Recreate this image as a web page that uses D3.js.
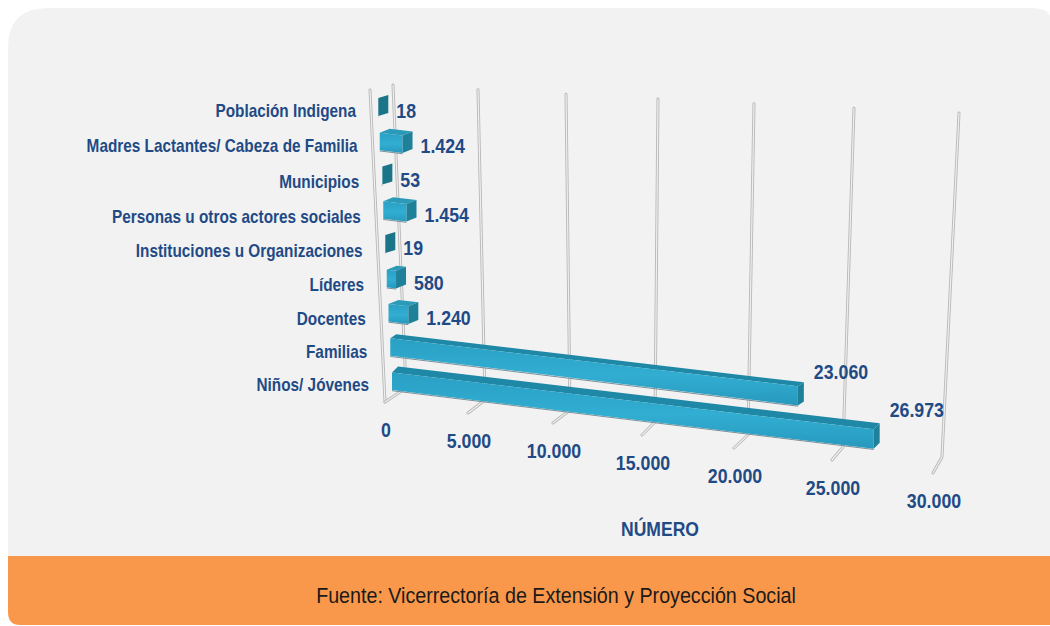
<!DOCTYPE html>
<html><head><meta charset="utf-8">
<script src="https://cdn.jsdelivr.net/npm/d3@7/dist/d3.min.js"></script>
<style>html,body{margin:0;padding:0;background:#fff;overflow:hidden}svg{display:block}
text{font-family:"Liberation Sans",Arial,sans-serif}</style>
</head><body><svg id="c" width="1050" height="626"></svg>
<script>
const categories = ["Población Indigena","Madres Lactantes/ Cabeza de Familia","Municipios","Personas u otros actores sociales","Instituciones u Organizaciones","Líderes","Docentes","Familias","Niños/ Jóvenes"];
const values = [18,1424,53,1454,19,580,1240,23060,26973];
const valueLabels = ["18","1.424","53","1.454","19","580","1.240","23.060","26.973"];
const tickValues = [0,5000,10000,15000,20000,25000,30000];
const tickLabels = ["0","5.000","10.000","15.000","20.000","25.000","30.000"];
const axisTitle = "NÚMERO";
const source = "Fuente: Vicerrectoría de Extensión y Proyección Social";

const ink = "#1f4a85";
const svg = d3.select("#c");
const defs = svg.append("defs");
const g = defs.append("linearGradient").attr("id","face").attr("x1",0).attr("y1",0).attr("x2",0).attr("y2",1);
g.append("stop").attr("offset",0).attr("stop-color","#2a9fc4");
g.append("stop").attr("offset",.55).attr("stop-color","#31aed2");
g.append("stop").attr("offset",1).attr("stop-color","#2798bd");

// condensed text: real text, narrowed horizontally
function label(x,y,str,size,sx,anchor,bold,fill){
  return svg.append("text").attr("transform",`translate(${x},${y}) scale(${sx},1)`)
    .attr("text-anchor",anchor).attr("font-size",size)
    .attr("font-weight",bold?"bold":"normal").attr("fill",fill).text(str);
}

// panel and footer
svg.append("path").attr("fill","#f2f2f2")
  .attr("d","M8,560V48Q8,8 48,8H1030Q1050,8 1050,18V560Z");
svg.append("path").attr("fill","#f9984a")
  .attr("d","M8,556H1050V625H20Q8,625 8,612Z");
label(556,603,source,22,.895,"middle",false,"#1a1a1a");

// perspective scales (the picture's projection is not linear)
const topX = d3.scaleLinear().domain(tickValues).range([393,478,566,658,754,854,959]);
const botX = d3.scaleLinear().domain(tickValues).range([406,485,570,655,748,843,942]);
const footX = d3.scaleLinear().domain(tickValues).range([385,468,553,642,734,832,933]);
const topY = d3.scaleLinear().domain([0,30000]).range([85,113]);
const botY = d3.scaleLinear().domain(tickValues).range([388,400,410,422,435,447,457]);
const footY = d3.scaleLinear().domain(tickValues).range([402,413,423,435,448,460,473]);
const barLen = d3.scaleLinear().domain([0,500,1500,15000,30000]).range([0,8,24,255,539]);
const rowLeft = d3.scalePoint().domain(categories).range([378,392]);
const rowBottom = d3.scalePoint().domain(categories).range([116,390]);
const rowLabelX = d3.scalePoint().domain(categories).range([356,369]);
const rowLabelY = d3.scaleLinear().domain([0,3,6,8]).range([111,217,319,385]);

function gridLine(pts){
  const l = d3.line();
  svg.append("path").attr("d",l(pts)).attr("fill","none").attr("stroke","#b8b8b8").attr("stroke-width",3).attr("stroke-linecap","round").attr("stroke-linejoin","round");
  svg.append("path").attr("d",l(pts)).attr("fill","none").attr("stroke","#efefef").attr("stroke-width",1.2).attr("stroke-linecap","round").attr("stroke-linejoin","round");
}
// left edge of the wall
gridLine([[370,90],[385,402]]);
tickValues.forEach((t,i)=>{
  const fx=footX(t), fy=footY(t);
  gridLine([[topX(t),topY(t)],[botX(t),botY(t)],[fx,fy]]);
  label(fx+1,fy+35,tickLabels[i],21,.845,"middle",true,ink);
});

// bars
categories.forEach((c,i)=>{
  const v=values[i], len=barLen(v), thin=v<100, long=len>100;
  const x0=rowLeft(c), yb0=rowBottom(c);
  const slope=.122, h0=thin?18:17.5;
  const h1=h0+len*.004;
  const x1=x0+len, yb1=yb0+len*slope, yt0=yb0-h0, yt1=yb1-h1;
  const dx=long?6:10, dy=thin?-3:(i===categories.length-1?-6:-4);
  const poly=(p,fill)=>svg.append("polygon").attr("points",p.map(a=>a.join(",")).join(" ")).attr("fill",fill);
  svg.append("line").attr("x1",x0).attr("y1",yb0+.7).attr("x2",x1).attr("y2",yb1+.7).attr("stroke","#7d8f96").attr("stroke-width",1);
  if(!thin){
    poly([[x0,yt0],[x0+dx,yt0+dy],[x1+dx,yt1+dy],[x1,yt1]],long?"#1f88a6":"#2a9ab8");
    poly([[x0,yt0],[x1,yt1],[x1,yb1],[x0,yb0]],"url(#face)");
  }
  poly([[x1,yt1],[x1+dx,yt1+dy],[x1+dx,yb1+dy],[x1,yb1]],thin?"#1b7488":"#1f8099");
  label(x1+dx+(long?10:8),yb0+len*slope-5-len*.07+7,valueLabels[i],21,.845,"start",true,ink);
  label(rowLabelX(c),rowLabelY(i)+6,c,18,.852,"end",true,ink);
});
label(660,536,axisTitle,21,.835,"middle",true,ink);
</script></body></html>
